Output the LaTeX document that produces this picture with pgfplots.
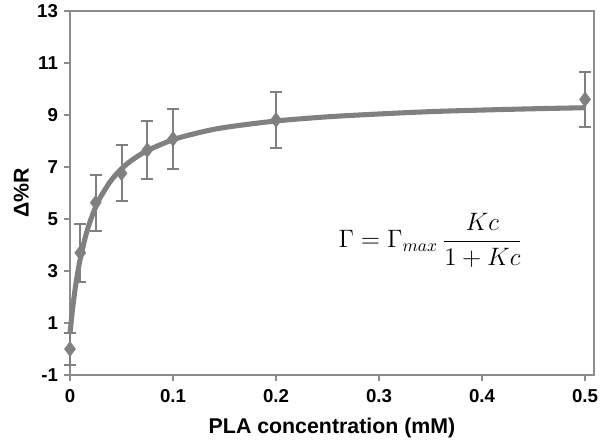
\documentclass[border=0pt]{standalone}
\usepackage{amsmath}
\usepackage{graphicx}
\usepackage{pgfplots}
\pgfplotsset{compat=1.18}
\usepackage{fontspec}
\setmainfont{Liberation Sans}
\definecolor{dgray}{RGB}{128,128,128}
\definecolor{agray}{RGB}{140,140,140}
\begin{document}
\begin{tikzpicture}
\begin{axis}[
  scale only axis,
  width=393pt, height=273pt,
  xmin=0, xmax=0.5087, ymin=-1, ymax=13,
  xtick={0,0.1,0.2,0.3,0.4,0.5},
  xticklabels={0,0.1,0.2,0.3,0.4,0.5},
  ytick={-1,1,3,5,7,9,11,13},
  yticklabels={-1,1,3,5,7,9,11,13},
  xtick pos=bottom, ytick pos=left,
  tick align=outside,
  major tick length=4.5pt,
  tick style={agray, line width=1.1pt},
  axis line style={agray, line width=1.1pt},
  ticklabel style={font=\fontsize{14}{16}\selectfont\bfseries},
  xticklabel style={yshift=-3pt},
  yticklabel style={xshift=-1pt},
  /pgf/number format/assume math mode=true,
  xlabel={\fontsize{16}{18}\selectfont\bfseries PLA concentration (mM)},
  ylabel={\fontsize{16}{18}\selectfont\bfseries Δ\%R},
  xlabel style={at={(axis description cs:0.5,-0.145)}, anchor=center},
  ylabel style={at={(axis description cs:-0.093,0.5)}, anchor=center},
  clip=false,
]
\addplot[dgray, line width=3.8pt, smooth] coordinates {
(0,0.60) (0.0025,1.54) (0.005,2.31) (0.0075,2.94) (0.01,3.47) (0.015,4.32)
(0.02,4.96) (0.025,5.47) (0.03,5.87) (0.04,6.49) (0.05,6.93) (0.06,7.26)
(0.075,7.63) (0.1,8.05) (0.125,8.32) (0.15,8.52) (0.2,8.77) (0.25,8.93)
(0.3,9.04) (0.35,9.13) (0.4,9.19) (0.45,9.24) (0.5,9.28)
};
\addplot[dgray, only marks, mark=diamond*, mark size=5.5pt,
  mark options={fill=dgray, draw=dgray},
  error bars/.cd, y dir=both, y explicit,
  error bar style={dgray, line width=1.5pt},
  error mark options={rotate=90, dgray, mark size=4.5pt, line width=1.5pt}]
coordinates {
(0,0) +- (0,0.63)
(0.01,3.70) +- (0,1.11)
(0.025,5.63) +- (0,1.08)
(0.05,6.76) +- (0,1.07)
(0.075,7.65) +- (0,1.11)
(0.1,8.08) +- (0,1.17)
(0.2,8.81) +- (0,1.08)
(0.5,9.60) +- (0,1.07)
};
\node[inner sep=0pt] at (axis cs:0.350,4.18)
  {\resizebox{138pt}{!}{\Large$\Gamma = \Gamma_{max}\,\dfrac{Kc}{1+Kc}$}};
\end{axis}
\pgfresetboundingbox
\path[use as bounding box] ([shift={(-52.5pt,-54pt)}]current axis.south west)
  rectangle ([shift={(4.5pt,8.25pt)}]current axis.north east);
\end{tikzpicture}
\end{document}
